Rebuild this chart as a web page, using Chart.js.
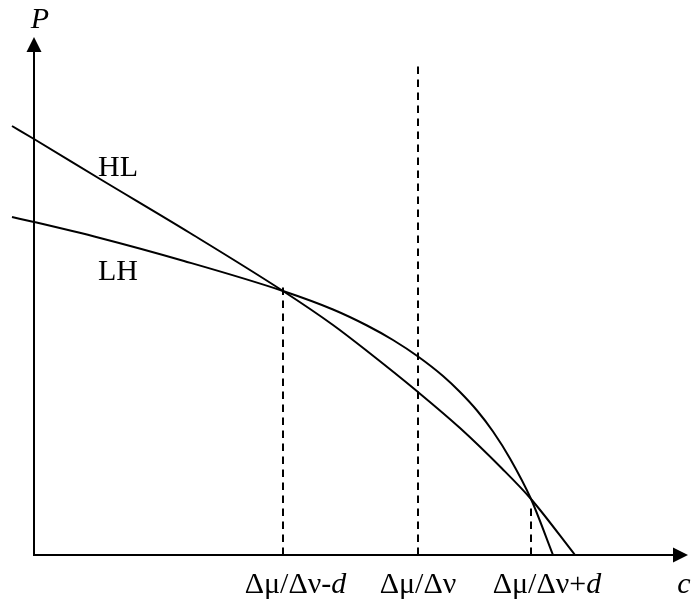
<!DOCTYPE html>
<html>
<head>
<meta charset="utf-8">
<script src="https://cdn.jsdelivr.net/npm/chart.js@4.4.1/dist/chart.umd.min.js"></script>
<style>
  html, body { margin: 0; padding: 0; background: #fff; }
  #wrap { width: 695px; height: 607px; }
</style>
</head>
<body>
<div id="wrap"><canvas id="chart" width="695" height="607"></canvas></div>
<script>
// HL schedule: price P at each cost level c
const hlC = [-22, 0, 66, 156, 249, 299, 333, 384, 426, 468, 497, 541];
const hlP = [429, 416, 376, 322, 264, 230, 204, 163, 127, 86.5, 56, 0];

// LH schedule
const lhC = [-22, 0, 66, 150, 249, 299, 333, 359, 384, 409, 426, 443, 459, 476, 497, 519];
const lhP = [338, 333, 317, 294, 264, 245.5, 229.5, 215, 198.5, 179, 163, 144.5, 123.5, 96.5, 56, 0];

// Marked cost levels on the c axis and the height each guide line reaches
const tickC = [249, 384, 497];
const tickLabels = ['Δμ/Δν-d', 'Δμ/Δν', 'Δμ/Δν+d'];
const guideTop = [268, 492, 52];

// Curve names
const curveNames = ['HL', 'LH'];

const SERIF = '"Liberation Serif", "Times New Roman", "DejaVu Serif", serif';
const FONT_PX = 30;

const toPts = (cs, ps) => cs.map((c, i) => ({ x: c, y: ps[i] }));

const curveStyle = {
  type: 'line',
  showLine: true,
  borderColor: '#000',
  borderWidth: 2,
  pointRadius: 0,
  cubicInterpolationMode: 'monotone',
  fill: false
};

const datasets = [
  Object.assign({ label: curveNames[0], data: toPts(hlC, hlP) }, curveStyle),
  Object.assign({ label: curveNames[1], data: toPts(lhC, lhP) }, curveStyle)
];

tickC.forEach((c, i) => {
  datasets.push({
    label: 'guide ' + i,
    data: [{ x: c, y: 0 }, { x: c, y: guideTop[i] }],
    showLine: true,
    borderColor: '#000',
    borderWidth: 2,
    borderDash: [7.5, 5.5],
    pointRadius: 0,
    fill: false
  });
});

// Axes with arrowheads, axis titles, curve names and c-axis labels
const decorPlugin = {
  id: 'decor',
  afterDatasetsDraw(chart, args, opts) {
    const { ctx, scales: { x, y } } = chart;
    const ox = x.getPixelForValue(0);
    const oy = y.getPixelForValue(0);
    const xTip = x.getPixelForValue(opts.cEnd);
    const yTip = y.getPixelForValue(opts.pEnd);
    const L = 15, H = 7.5;

    ctx.save();
    ctx.strokeStyle = '#000';
    ctx.fillStyle = '#000';
    ctx.lineWidth = 2;
    ctx.lineCap = 'butt';

    ctx.beginPath();
    ctx.moveTo(ox, oy + 1);
    ctx.lineTo(ox, yTip + L);
    ctx.moveTo(ox - 1, oy);
    ctx.lineTo(xTip - L, oy);
    ctx.stroke();

    ctx.beginPath();
    ctx.moveTo(ox, yTip);
    ctx.lineTo(ox - H, yTip + L);
    ctx.lineTo(ox + H, yTip + L);
    ctx.closePath();
    ctx.fill();

    ctx.beginPath();
    ctx.moveTo(xTip, oy);
    ctx.lineTo(xTip - L, oy - H);
    ctx.lineTo(xTip - L, oy + H);
    ctx.closePath();
    ctx.fill();

    const upright = FONT_PX + 'px ' + SERIF;
    const italic = 'italic ' + FONT_PX + 'px ' + SERIF;
    ctx.textBaseline = 'alphabetic';

    // axis titles
    ctx.font = italic;
    ctx.textAlign = 'center';
    ctx.fillText('P', ox + 6, yTip - 9);
    ctx.fillText('c', xTip - 4, oy + 38);

    // curve names
    ctx.font = upright;
    ctx.textAlign = 'left';
    opts.names.forEach(n => {
      ctx.fillText(n.text, x.getPixelForValue(n.c), y.getPixelForValue(n.p));
    });

    // c-axis labels: the Δμ/Δν part is centred on its guide, a trailing d is italic
    const base = 'Δμ/Δν';
    ctx.font = upright;
    const baseW = ctx.measureText(base).width;
    tickC.forEach((c, i) => {
      const label = tickLabels[i];
      let px = x.getPixelForValue(c) - baseW / 2;
      const py = oy + 38;
      ctx.font = upright;
      ctx.fillText(base, px, py);
      px += baseW;
      const rest = label.slice(base.length);
      if (rest.length) {
        const sign = rest.slice(0, -1);
        ctx.fillText(sign, px, py);
        px += ctx.measureText(sign).width;
        ctx.font = italic;
        ctx.fillText(rest.slice(-1), px, py);
      }
    });
    ctx.restore();
  }
};

new Chart(document.getElementById('chart'), {
  type: 'scatter',
  data: { datasets },
  options: {
    responsive: false,
    animation: false,
    layout: { padding: 0 },
    plugins: {
      legend: { display: false },
      tooltip: { enabled: false },
      decor: {
        cEnd: 654,
        pEnd: 518,
        names: [
          { text: curveNames[0], c: 64, p: 379 },
          { text: curveNames[1], c: 64, p: 275 }
        ]
      }
    },
    scales: {
      x: { type: 'linear', display: false, min: -34, max: 661 },
      y: { type: 'linear', display: false, min: -52, max: 555 }
    }
  },
  plugins: [decorPlugin]
});
</script>
</body>
</html>
